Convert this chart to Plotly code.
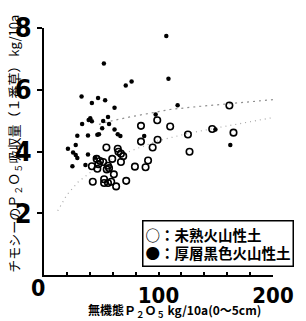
import plotly.graph_objects as go

# Open circles: 未熟火山性土
open_x = [161.9, 205.1, 98.9, 84.7, 110.2, 84.7, 99.2, 94.9, 125.7, 146.9, 165.5, 127.1,
          54.5, 64.4, 65.0, 67.2, 69.2, 59.6, 67.2, 46.0, 48.9, 51.7, 47.5, 41.8, 46.6,
          55.9, 54.8, 61.0, 79.4, 88.7, 90.9, 42.6, 52.5, 55.9, 58.7, 63.0, 71.8, 52.5, 56.8]
open_y = [5.49, 5.20, 5.01, 4.83, 4.81, 4.32, 4.38, 4.13, 4.55, 4.73, 4.61, 3.99,
          4.13, 4.09, 3.99, 3.93, 3.85, 3.76, 3.66, 3.76, 3.69, 3.66, 3.59, 3.52, 3.44,
          3.54, 3.42, 3.26, 3.51, 3.49, 3.71, 3.02, 2.98, 2.98, 3.02, 2.87, 3.05, 3.10, 3.46]

# Filled dots: 厚層黒色火山性土
fill_x = [106.8, 52.3, 108.7, 71.4, 76.5, 32.8, 41.8, 47.2, 53.4, 61.6, 116.7, 97.5,
          40.4, 41.8, 39.0, 33.3, 51.7, 55.9, 56.8, 87.5, 149.7, 162.7, 29.1, 38.4,
          46.6, 48.0, 50.8, 61.6, 64.4, 66.7, 20.9, 27.7, 25.4, 27.7, 29.1, 24.8, 36.2,
          38.4, 44.6]
fill_y = [7.74, 6.85, 6.36, 6.14, 6.27, 5.78, 5.57, 5.73, 5.66, 5.42, 5.50, 5.20,
          5.08, 4.98, 5.02, 4.89, 4.99, 5.12, 4.89, 4.50, 4.71, 4.21, 4.51, 4.52,
          4.54, 4.56, 4.75, 4.71, 4.56, 4.50, 4.09, 4.21, 3.97, 3.89, 3.79, 3.52, 3.56,
          3.90, 3.80]

# Trend curves
lower_x = [12, 20, 30, 45, 60, 80, 100, 125, 150, 175, 200]
lower_y = [2.08, 2.60, 3.02, 3.45, 3.78, 4.08, 4.35, 4.58, 4.76, 4.94, 5.10]
upper_x = [48, 60, 75, 90, 110, 130, 160, 180, 200]
upper_y = [4.88, 5.00, 5.12, 5.22, 5.36, 5.44, 5.54, 5.61, 5.68]

y_ticks = [2, 4, 6, 8]
x_ticks = [100, 200]

fig = go.Figure()
fig.add_trace(go.Scatter(x=lower_x, y=lower_y, mode="lines",
                         line=dict(color="#a8a8a8", width=1.2, dash="1px,4px"),
                         showlegend=False, hoverinfo="skip"))
fig.add_trace(go.Scatter(x=upper_x, y=upper_y, mode="lines",
                         line=dict(color="#909090", width=1.2, dash="2px,4px"),
                         showlegend=False, hoverinfo="skip"))
fig.add_trace(go.Scatter(x=open_x, y=open_y, mode="markers", name="未熟火山性土",
                         marker=dict(symbol="circle-open", size=6.5, color="black",
                                     line=dict(width=1.6, color="black")),
                         showlegend=False))
fig.add_trace(go.Scatter(x=fill_x, y=fill_y, mode="markers", name="厚層黒色火山性土",
                         marker=dict(symbol="circle", size=4.5, color="black"),
                         showlegend=False))

num_font = "DejaVu Sans Condensed, Liberation Sans Narrow, sans-serif"
jp_font = "Noto Sans CJK JP, sans-serif"

fig.update_layout(
    width=306, height=321,
    margin=dict(l=44, r=26, t=15, b=46),
    paper_bgcolor="white", plot_bgcolor="white",
    xaxis=dict(range=[0, 200], tickvals=x_ticks, ticktext=[str(v) for v in x_ticks],
               ticks="inside", ticklen=3, tickwidth=1.5, tickcolor="black",
               showline=True, linecolor="black", linewidth=2, showgrid=False, zeroline=False,
               ticklabeloverflow="allow",
               tickfont=dict(family=num_font, size=22, color="black", weight="bold"),
               minor=dict(dtick=20, tick0=0, ticks="inside", ticklen=3, tickwidth=1.5,
                          tickcolor="black", showgrid=False)),
    yaxis=dict(range=[0, 8], tickvals=y_ticks, ticktext=[str(v) for v in y_ticks],
               ticks="outside", ticklen=5, tickwidth=1.5, tickcolor="black",
               showline=True, linecolor="black", linewidth=2, showgrid=False, zeroline=False,
               ticklabeloverflow="allow",
               tickfont=dict(family=num_font, size=27, color="black", weight="bold")),
    annotations=[
        dict(text="0", xref="paper", yref="paper", x=-0.025, y=-0.054,
             xanchor="center", yanchor="middle", showarrow=False,
             font=dict(family=num_font, size=23, color="black", weight="bold")),
        dict(text="チモシーのＰ<sub>２</sub>Ｏ<sub>５</sub>吸収量（１番草） kg/10a",
             xref="paper", yref="paper", x=-44/236 + 14/236, y=(275 - 137) / 260,
             xanchor="center", yanchor="middle", textangle=-90, showarrow=False,
             font=dict(family=jp_font, size=13, color="black")),
        dict(text="無機態Ｐ<sub>２</sub>Ｏ<sub>５</sub> kg/10a(0～5cm)",
             xref="paper", yref="paper", x=(178 - 44) / 236, y=(275 - 312) / 260,
             xanchor="center", yanchor="middle", showarrow=False,
             font=dict(family=jp_font, size=12, color="black", weight="bold")),
        dict(text="○：未熟火山性土<br>●：厚層黒色火山性土",
             xref="paper", yref="paper", x=(145 - 44) / 236, y=(275 - 217) / 260,
             xanchor="left", yanchor="top", align="left", showarrow=False,
             bordercolor="black", borderwidth=1.5, borderpad=2, bgcolor="white",
             font=dict(family=jp_font, size=14.5, color="black", weight="bold")),
    ],
)

fig.write_html("out.html")
